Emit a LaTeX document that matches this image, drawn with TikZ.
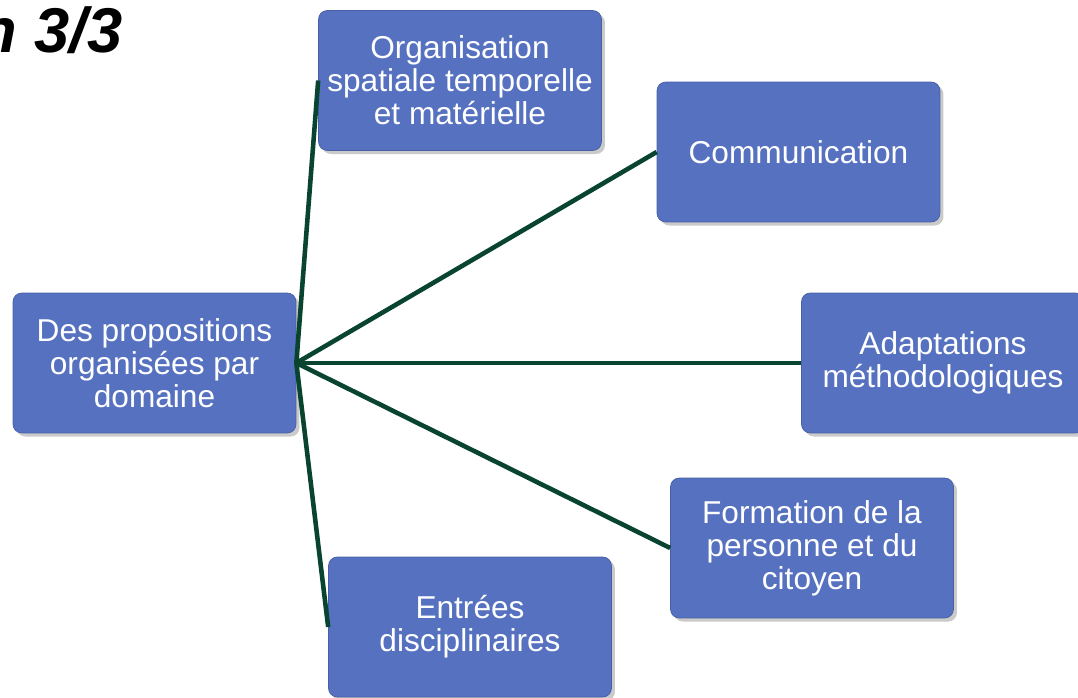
\documentclass[tikz,border=0pt]{standalone}
\usepackage{fontspec}
\setmainfont{Liberation Sans}
\usetikzlibrary{%
  shadows,%
  positioning% wg. " of "
}
\definecolor{boxblue}{RGB}{85,113,192}
\definecolor{boxedge}{RGB}{70,95,165}
\definecolor{linkgreen}{RGB}{8,68,48}

\begin{document}
\begin{tikzpicture}[x=0.02cm, y=-0.02cm,
  domainbox/.style={draw=boxedge, fill=boxblue, rounded corners=5pt, thin,
    minimum width=5.66cm, minimum height=2.8cm, align=center,
    text=white, font=\fontsize{18}{18.7}\selectfont,
    drop shadow={shadow xshift=2pt, shadow yshift=-2pt, opacity=0.35, fill=black!60}},
  link/.style={draw=linkgreen, line width=2.6pt}]

\useasboundingbox (0,0) rectangle (1078,697);

% --------
\node [anchor=base east, font=\fontsize{36}{42}\selectfont\bfseries\itshape] (titre) at (129,52) {n 3/3};

% --------
\node [domainbox] (racine) at (154.5,363) {Des propositions\\organisées par\\domaine};

\node [domainbox] (organisation) at (460,80.5) {Organisation\\spatiale temporelle\\et matérielle};
\node [domainbox] (communication) at (798.5,152) {Communication};
\node [domainbox] (adaptations) at (943,363) {Adaptations\\méthodologiques};
\node [domainbox] (formation) at (812,548) {Formation de la\\personne et du\\citoyen};
\node [domainbox] (entrees) at (470,627) {Entrées\\disciplinaires};

% --------
\foreach \b in {organisation,communication,adaptations,formation,entrees}
  \draw [link] (racine.east) -- (\b.west);

\end{tikzpicture}
\end{document}
